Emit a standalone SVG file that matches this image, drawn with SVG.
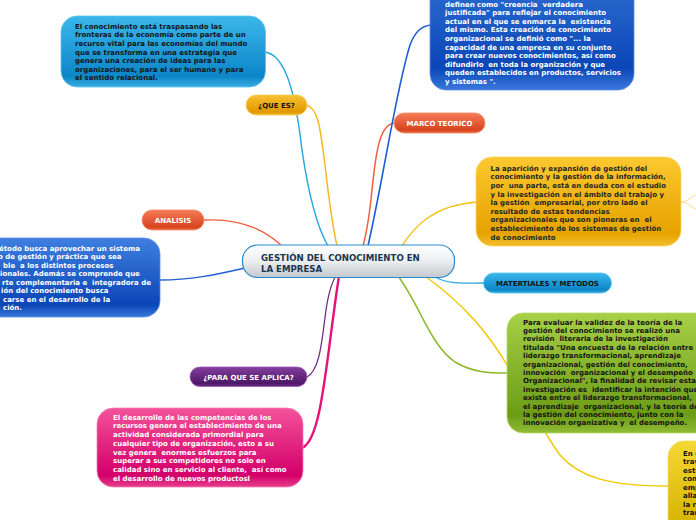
<svg xmlns="http://www.w3.org/2000/svg" width="696" height="520" viewBox="0 0 696 520">
<style>
.t{font-family:"DejaVu Sans","Liberation Sans",sans-serif;font-weight:bold;font-size:7px}
.d{fill:#141414}.w{fill:#ffffff}
.c{fill:none;stroke-linecap:round}
.lbl{text-anchor:middle}
</style>
<defs>
<linearGradient id="gLB" x1="0" y1="0" x2="0" y2="1"><stop offset="0" stop-color="#3cb7eb"/><stop offset="0.85" stop-color="#0c86c7"/><stop offset="1" stop-color="#39ace2"/></linearGradient>
<linearGradient id="gDB" x1="0" y1="0" x2="0" y2="1"><stop offset="0" stop-color="#3f7fe0"/><stop offset="0.85" stop-color="#0a46b6"/><stop offset="1" stop-color="#3a78dc"/></linearGradient>
<linearGradient id="gOR" x1="0" y1="0" x2="0" y2="1"><stop offset="0" stop-color="#f67c58"/><stop offset="0.85" stop-color="#d6441f"/><stop offset="1" stop-color="#e8683f"/></linearGradient>
<linearGradient id="gYO" x1="0" y1="0" x2="0" y2="1"><stop offset="0" stop-color="#f8c232"/><stop offset="0.85" stop-color="#e19800"/><stop offset="1" stop-color="#f0b52a"/></linearGradient>
<linearGradient id="gYM" x1="0" y1="0" x2="0" y2="1"><stop offset="0" stop-color="#fcc830"/><stop offset="0.85" stop-color="#e6a300"/><stop offset="1" stop-color="#f3bd2c"/></linearGradient>
<linearGradient id="gGR" x1="0" y1="0" x2="0" y2="1"><stop offset="0" stop-color="#a6d048"/><stop offset="0.85" stop-color="#6c9c16"/><stop offset="1" stop-color="#8fbc34"/></linearGradient>
<linearGradient id="gPU" x1="0" y1="0" x2="0" y2="1"><stop offset="0" stop-color="#833f9e"/><stop offset="0.85" stop-color="#4e1767"/><stop offset="1" stop-color="#6e2c88"/></linearGradient>
<linearGradient id="gPK" x1="0" y1="0" x2="0" y2="1"><stop offset="0" stop-color="#f3529a"/><stop offset="0.85" stop-color="#d3006a"/><stop offset="1" stop-color="#e63e8c"/></linearGradient>
<linearGradient id="gYB" x1="0" y1="0" x2="0" y2="1"><stop offset="0" stop-color="#f4d835"/><stop offset="0.85" stop-color="#d5b300"/><stop offset="1" stop-color="#e6c82a"/></linearGradient>
<linearGradient id="gCE" x1="0" y1="0" x2="0" y2="1"><stop offset="0" stop-color="#ffffff"/><stop offset="0.5" stop-color="#eceef0"/><stop offset="1" stop-color="#c3c8cd"/></linearGradient>
</defs>

<g id="connectors">
<path class="c" stroke="#2aa8e0" stroke-width="1.5" d="M265,52 C285,55 295,90 302,150 C310,205 320,232 328,246"/>
<path class="c" stroke="#f5b820" stroke-width="1.5" d="M306,105 C318,108 320,125 325,165 C330,210 334,232 337,246"/>
<path class="c" stroke="#f0603e" stroke-width="1.5" d="M394,123 C380,125 376,150 372,190 C369,220 366,235 363,246"/>
<path class="c" stroke="#1f5fd6" stroke-width="1.6" d="M368,246 C385,170 396,90 410,45 C415,32 421,26 431,25"/>
<path class="c" stroke="#f5c21c" stroke-width="1.5" d="M402,246 C415,225 435,205 477,202"/>
<path class="c" stroke="#f8d98a" stroke-width="1" d="M681,202 C688,202 690,197 696,195 M681,202 C688,202 690,207 696,209"/>
<path class="c" stroke="#f0603e" stroke-width="1.3" d="M204,220 C240,218 265,230 282,246"/>
<path class="c" stroke="#1f5fd6" stroke-width="1.3" d="M245,268 C215,275 190,280 160,280"/>
<path class="c" stroke="#2aa8e0" stroke-width="1.3" d="M433,276 C450,285 460,283 484,283"/>
<path class="c" stroke="#f2c800" stroke-width="1.5" d="M425,276 C465,305 490,335 510,370 C530,405 545,435 560,455 C580,478 610,486 669,486"/>
<path class="c" stroke="#8ab82a" stroke-width="1.5" d="M398,276 C420,305 430,345 455,362 C475,374 495,373 508,373"/>
<path class="c" stroke="#6b2d86" stroke-width="1.3" d="M307,377 C320,370 322,340 326,310 C329,290 332,282 336,276"/>
<path class="c" stroke="#e5127a" stroke-width="2.4" d="M339,276 C326,360 322,440 302,448"/>
</g>

<g id="node-center">
<rect x="242.5" y="245" width="212" height="32.5" rx="15" fill="url(#gCE)" stroke="#2a8ad0" stroke-width="1.2"/>
<text class="t" style="font-size:8.6px" fill="#1c3550" x="261" y="261">GESTIÓN DEL CONOCIMIENTO EN</text>
<text class="t" style="font-size:8.6px" fill="#1c3550" x="261" y="271.5">LA EMPRESA</text>
</g>

<g id="node-queEsTexto">
<rect x="61" y="16" width="204.5" height="71" rx="16" fill="url(#gLB)" stroke="#5cc4f0" stroke-width="0.8"/>
<text class="t d" xml:space="preserve"><tspan x="75" y="28.7">El conocimiento está traspasando las</tspan><tspan x="75" y="37.3">fronteras de la economía como parte de un</tspan><tspan x="75" y="45.9">recurso vital para las economías del mundo</tspan><tspan x="75" y="54.5">que se transforma en una estrategia que</tspan><tspan x="75" y="63.1">genera una creación de ideas para las</tspan><tspan x="75" y="71.7">organizaciones, para el ser humano y para</tspan><tspan x="75" y="80.3">el sentido relacional.</tspan></text>
</g>

<g id="node-marcoTexto">
<rect x="430" y="-60" width="204" height="150" rx="16" fill="url(#gDB)" stroke="#5b8fe6" stroke-width="0.8"/>
<text class="t w" xml:space="preserve"><tspan x="445" y="6.8">definen como "creencia  verdadera</tspan><tspan x="445" y="15.35">justificada" para reflejar el conocimiento</tspan><tspan x="445" y="23.9">actual en el que se enmarca la  existencia</tspan><tspan x="445" y="32.45">del mismo. Esta creación de conocimiento</tspan><tspan x="445" y="41">organizacional se definió como "... la</tspan><tspan x="445" y="49.55">capacidad de una empresa en su conjunto</tspan><tspan x="445" y="58.1">para crear nuevos conocimientos, así como</tspan><tspan x="445" y="66.65">difundirlo  en toda la organización y que</tspan><tspan x="445" y="75.2">queden establecidos en productos, servicios</tspan><tspan x="445" y="83.75">y sistemas ".</tspan></text>
</g>

<g id="node-marco">
<rect x="394" y="113" width="91" height="20" rx="10" fill="url(#gOR)" stroke="#f58a66" stroke-width="0.8"/>
<text class="t w lbl" x="439.5" y="126">MARCO TEORICO</text>
</g>

<g id="node-queEs">
<rect x="246" y="95" width="61" height="20" rx="10" fill="url(#gYO)" stroke="#f9cc55" stroke-width="0.8"/>
<text class="t d lbl" x="276.5" y="108">¿QUE ES?</text>
</g>

<g id="node-analisis">
<rect x="142" y="210" width="62" height="20" rx="10" fill="url(#gOR)" stroke="#f58a66" stroke-width="0.8"/>
<text class="t w lbl" x="173" y="223">ANALISIS</text>
</g>

<g id="node-analisisTexto">
<rect x="-60" y="238" width="220" height="79" rx="16" fill="url(#gDB)" stroke="#5b8fe6" stroke-width="0.8"/>
<text class="t w" xml:space="preserve"><tspan x="-1" y="250.5">étodo busca aprovechar un sistema</tspan><tspan x="-2" y="259">o de gestión y práctica que sea</tspan><tspan x="3" y="267.5">ble  a los distintos procesos</tspan><tspan x="0" y="276">ionales. Además se comprende que</tspan><tspan x="2" y="284.5">rte complementaria e  integradora de</tspan><tspan x="1" y="293">ión del conocimiento busca</tspan><tspan x="3" y="301.5">carse en el desarrollo de la</tspan><tspan x="3" y="310">ción.</tspan></text>
</g>

<g id="node-materiales">
<rect x="483.5" y="273" width="128" height="20" rx="10" fill="url(#gLB)" stroke="#5cc4f0" stroke-width="0.8"/>
<text class="t d lbl" x="547.5" y="286">MATERTIALES Y METODOS</text>
</g>

<g id="node-aparicion">
<rect x="476" y="157" width="205" height="89" rx="16" fill="url(#gYM)" stroke="#fcd462" stroke-width="0.8"/>
<text class="t" fill="#262626" xml:space="preserve"><tspan x="490.5" y="170.7">La aparición y expansión de gestión del</tspan><tspan x="490.5" y="179.3">conocimiento y la gestión de la información,</tspan><tspan x="490.5" y="187.9">por  una parte, está en deuda con el estudio</tspan><tspan x="490.5" y="196.5">y la investigación en el ámbito del trabajo y</tspan><tspan x="490.5" y="205.1">la gestión  empresarial, por otro lado el</tspan><tspan x="490.5" y="213.7">resultado de estas tendencias</tspan><tspan x="490.5" y="222.3">organizacionales que son pioneras en  el</tspan><tspan x="490.5" y="230.9">establecimiento de los sistemas de gestión</tspan><tspan x="490.5" y="239.5">de conocimiento</tspan></text>
</g>

<g id="node-evaluar">
<rect x="507" y="313" width="230" height="120" rx="16" fill="url(#gGR)" stroke="#b6da68" stroke-width="0.8"/>
<text class="t d" xml:space="preserve"><tspan x="523" y="324.6">Para evaluar la validez de la teoría de la</tspan><tspan x="523" y="333">gestión del conocimiento se realizó una</tspan><tspan x="523" y="341.4">revisión  literaria de la investigación</tspan><tspan x="523" y="349.8">titulada "Una encuesta de la relación entre</tspan><tspan x="523" y="358.2">liderazgo transformacional, aprendizaje</tspan><tspan x="523" y="366.6">organizacional, gestión del conocimiento,</tspan><tspan x="523" y="375">innovación  organizacional y el desempeño</tspan><tspan x="523" y="383.4">Organizacional", la finalidad de revisar esta</tspan><tspan x="523" y="391.8">investigación es  identificar la intención que</tspan><tspan x="523" y="400.2">existe entre el liderazgo transformacional,</tspan><tspan x="523" y="408.6">el aprendizaje  organizacional, y la teoría de</tspan><tspan x="523" y="417">la gestión del conocimiento, junto con la</tspan><tspan x="523" y="425.4">innovación organizativa y  el desempeño.</tspan></text>
</g>

<g id="node-aplica">
<rect x="190" y="367" width="117" height="19.5" rx="9.75" fill="url(#gPU)" stroke="#9a5bb3" stroke-width="0.8"/>
<text class="t w lbl" x="248.5" y="379.6">¿PARA QUE SE APLICA?</text>
</g>

<g id="node-aplicaTexto">
<rect x="97" y="408" width="206" height="79" rx="16" fill="url(#gPK)" stroke="#f67fb3" stroke-width="0.8"/>
<text class="t w" xml:space="preserve"><tspan x="113" y="419.7">El desarrollo de las competencias de los</tspan><tspan x="113" y="428.4">recursos genera el establecimiento de una</tspan><tspan x="113" y="437.1">actividad considerada primordial para</tspan><tspan x="113" y="445.8">cualquier tipo de organización, esto a su</tspan><tspan x="113" y="454.5">vez genera  enormes esfuerzos para</tspan><tspan x="113" y="463.2">superar a sus competidores no solo en</tspan><tspan x="113" y="471.9">calidad sino en servicio al cliente,  así como</tspan><tspan x="113" y="480.6">el desarrollo de nuevos productosl</tspan></text>
</g>

<g id="node-final">
<rect x="668" y="441" width="80" height="100" rx="16" fill="url(#gYB)" stroke="#f2dc5c" stroke-width="0.8"/>
<text class="t d" xml:space="preserve"><tspan x="683" y="455.5">En e</tspan><tspan x="683" y="464">trav</tspan><tspan x="683" y="472.5">esti</tspan><tspan x="683" y="481">con</tspan><tspan x="683" y="489.5">emp</tspan><tspan x="683" y="498">alla</tspan><tspan x="683" y="506.5">la r</tspan><tspan x="683" y="515">tran</tspan></text>
</g>
</svg>
